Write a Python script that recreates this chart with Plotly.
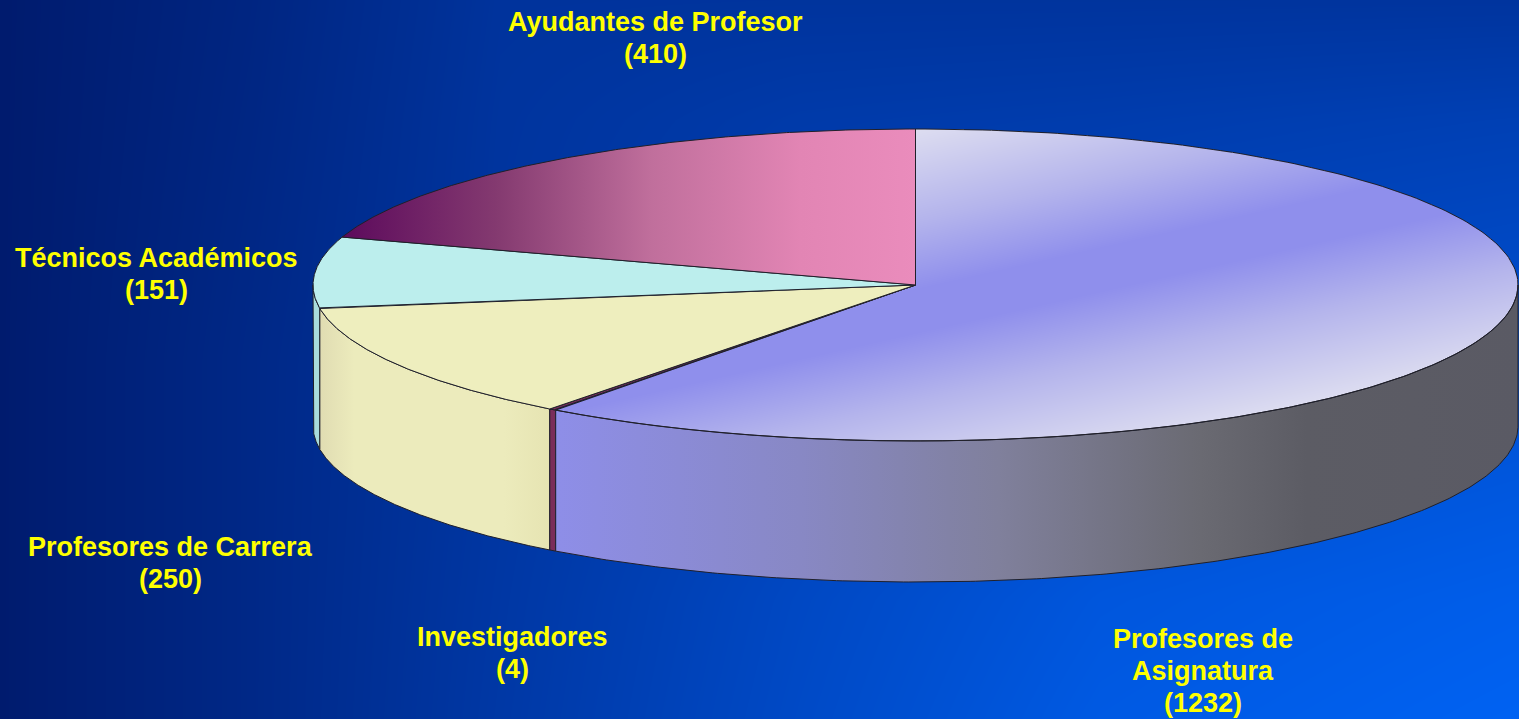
import numpy as np
import plotly.graph_objects as go

# ---- data ----
categories = ["Profesores de Asignatura", "Investigadores", "Profesores de Carrera",
              "Técnicos Académicos", "Ayudantes de Profesor"]
values = [1232, 4, 250, 151, 410]
label_lines = [["Profesores de", "Asignatura", "(1232)"], ["Investigadores", "(4)"],
               ["Profesores de Carrera", "(250)"], ["Técnicos Académicos", "(151)"],
               ["Ayudantes de Profesor", "(410)"]]
label_x = [1203, 512, 170, 156, 655]
label_y = [639, 637, 547, 258, 22]
LINE_STEP = 32

# ---- styling / geometry ----
W, H = 1519, 719
CX, CY, RX, RY, DEPTH = 915.5, 285.0, 602.5, 156.0, 141.0
EDGE = "#20202a"
TOP_SCALES = [
    None,
    [[0, "#7a2d5a"], [1, "#7a2d5a"]],
    [[0, "#eeeebe"], [1, "#eeeebe"]],
    [[0, "#bceeed"], [1, "#bceeed"]],
    [[0, "#5c0a5c"], [0.27, "#843a70"], [0.54, "#c06f9c"], [0.8, "#e285b4"], [1, "#ea8cbc"]],
]
SIDE_SCALES = [
    [[0, "#8e8ee8"], [0.256, "#8888c4"], [0.46, "#80809c"], [0.67, "#6a6a72"], [0.78, "#5c5c64"], [1, "#5a5a64"]],
    [[0, "#7a2d5a"], [1, "#7a2d5a"]],
    [[0, "#e0dcb2"], [0.15, "#ecebbc"], [0.8, "#ecebbc"], [1, "#e6e4b2"]],
    [[0, "#a8dcdc"], [1, "#a8dcdc"]],
    None,
]
PURPLE_SCALE = [[0, "#8f8fec"], [0.12, "#8f8fec"], [0.5, "#b4b4ec"], [1, "#dcdcf0"]]

# page background: brightness table (green channel)
BG_X = [-20, 250, 500, 800, 1100, 1540]
BG_Y = [-10, 120, 360, 600, 730]
BG_G = [[0x1a, 0x25, 0x33, 0x33, 0x33, 0x33],
        [0x1a, 0x26, 0x34, 0x3a, 0x3c, 0x40],
        [0x1a, 0x28, 0x35, 0x40, 0x48, 0x50],
        [0x1a, 0x28, 0x37, 0x48, 0x56, 0x5e],
        [0x1a, 0x28, 0x38, 0x4a, 0x5a, 0x63]]
g0, g1 = 0x1a, 0x63
BG_SCALE = [[0, "#001a6c"], [(0x33 - g0) / (g1 - g0), "#00339c"],
            [(0x44 - g0) / (g1 - g0), "#0044bc"], [1, "#0063f4"]]


def rim(a0, a1, n=240):
    t = np.radians(np.linspace(a0, a1, n))
    return CX + RX * np.sin(t), CY - RY * np.cos(t)


shares = np.array(values, dtype=float) / sum(values) * 360
ends = np.cumsum(shares)
starts = ends - shares

fig = go.Figure()

fig.add_trace(go.Heatmap(x=BG_X, y=BG_Y, z=BG_G, zmin=g0, zmax=g1, zsmooth="best",
                         colorscale=BG_SCALE, showscale=False, hoverinfo="skip"))

# side walls: only the near half of the disc (90 to 270 deg) is visible
for i in [3, 2, 1, 0]:
    a0, a1 = max(starts[i], 90), min(ends[i], 270)
    if a1 <= a0:
        continue
    x, y = rim(a0, a1)
    xs = np.r_[x, x[::-1], x[0]]
    ys = np.r_[y, y[::-1] + DEPTH, y[0]]
    fig.add_trace(go.Scatter(
        x=xs, y=ys, mode="lines", fill="toself",
        fillgradient=dict(type="horizontal", colorscale=SIDE_SCALES[i]),
        line=dict(color=EDGE, width=1), hoverinfo="skip", showlegend=False))

# the largest top slice has a slanted gradient, so it is a masked heatmap
xg = np.arange(553, W) + 0.5
yg = np.arange(128, 442) + 0.5
gx, gy = np.meshgrid(xg, yg)
u, v = (gx - CX) / RX, (CY - gy) / RY
ang = np.degrees(np.arctan2(u, v)) % 360
inside = (u * u + v * v <= 1.0) & (ang >= starts[0]) & (ang <= ends[0])
shade = np.clip(np.abs(gy - (270 - 0.225 * (gx - 1100))) / 180, 0, 1)
shade[~inside] = np.nan
fig.add_trace(go.Heatmap(x=xg, y=yg, z=shade, zmin=0, zmax=1, zsmooth="fast",
                         colorscale=PURPLE_SCALE, showscale=False, hoverinfo="skip"))

# top slices
for i in range(len(values)):
    x, y = rim(starts[i], ends[i])
    xs = np.r_[CX, x, CX]
    ys = np.r_[CY, y, CY]
    kw = dict(fill="none")
    if TOP_SCALES[i] is not None:
        kw = dict(fill="toself", fillgradient=dict(type="horizontal", colorscale=TOP_SCALES[i]))
    fig.add_trace(go.Scatter(x=xs, y=ys, mode="lines", line=dict(color=EDGE, width=1),
                             name=categories[i], hoverinfo="skip", showlegend=False, **kw))

for lines, lx, ly in zip(label_lines, label_x, label_y):
    for k, line in enumerate(lines):
        fig.add_annotation(x=lx, y=ly + k * LINE_STEP, text="<b>" + line + "</b>", showarrow=False,
                           align="center",
                           font=dict(family="Liberation Sans", size=27, color="#ffff00"))

fig.update_layout(
    width=W, height=H, margin=dict(l=0, r=0, t=0, b=0),
    paper_bgcolor="#0033a0", plot_bgcolor="rgba(0,0,0,0)",
    xaxis=dict(range=[0, W], visible=False, fixedrange=True),
    yaxis=dict(range=[H, 0], visible=False, fixedrange=True),
    showlegend=False,
)
fig.write_html("out.html", config=dict(displayModeBar=False),
               post_script="document.body.style.margin='0';document.body.style.overflow='hidden';")
